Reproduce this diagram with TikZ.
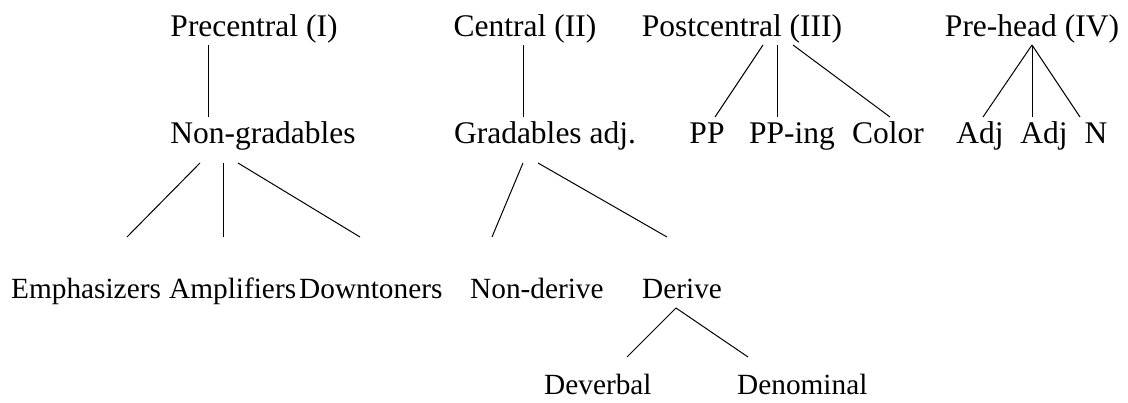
\documentclass[tikz,border=0pt]{standalone}
\usepackage{fontspec}
\setmainfont{Liberation Serif}
\begin{document}
\begin{tikzpicture}[x=1pt,y=-1pt,
  lbl/.style={anchor=base,inner sep=0pt,font=\fontsize{31.5}{36}\selectfont},
  lblw/.style={anchor=base west,inner sep=0pt,font=\fontsize{29.3}{34}\selectfont},
  edge/.style={line width=1pt,black}]
\useasboundingbox (0,0) rectangle (1128,403);
% row 1
\node[lbl] (pre) at (254,37) {Precentral (I)};
\node[lbl] (cen) at (525,37) {Central (II)};
\node[lbl] (post) at (742,37) {Postcentral (III)};
\node[lbl] (head) at (1032,37) {Pre-head (IV)};
% row 2
\node[lbl] (nongrad) at (263,144) {Non-gradables};
\node[lbl] (grad) at (545,144) {Gradables adj.};
\node[lbl] (pp) at (707,144) {PP};
\node[lbl] (pping) at (792,144) {PP-ing};
\node[lbl] (color) at (888,144) {Color};
\node[lbl] (adja) at (980,144) {Adj};
\node[lbl] (adjb) at (1044,144) {Adj};
\node[lbl] (n) at (1096,144) {N};
% row 3
\node[lblw] (emph) at (11,299) {Emphasizers};
\node[lblw] (ampl) at (169,299) {Amplifiers};
\node[lblw] (down) at (299,299) {Downtoners};
\node[lblw] (nonder) at (470,299) {Non-derive};
\node[lblw] (der) at (642,299) {Derive};
% row 4
\node[lblw] (deverb) at (544,395) {Deverbal};
\node[lblw] (denom) at (737,395) {Denominal};
% connector points
\coordinate (preB) at (208,45);
\coordinate (ngT) at (208,117);
\coordinate (cenB) at (523,45);
\coordinate (grT) at (523,117);
\coordinate (postB1) at (763,45);
\coordinate (postB2) at (777,45);
\coordinate (postB3) at (793,45);
\coordinate (ppT) at (715,117);
\coordinate (ppingT) at (777,117);
\coordinate (colorT) at (890,117);
\coordinate (headB) at (1032,45);
\coordinate (adjaT) at (983,117);
\coordinate (adjbT) at (1032,117);
\coordinate (nT) at (1080,117);
\coordinate (ngB1) at (200,163);
\coordinate (ngB2) at (223,163);
\coordinate (ngB3) at (238,163);
\coordinate (emT) at (127,237);
\coordinate (amT) at (223,237);
\coordinate (doT) at (360,237);
\coordinate (grB1) at (523,163);
\coordinate (grB2) at (538,163);
\coordinate (ndT) at (492,237);
\coordinate (dT) at (667,237);
\coordinate (derB) at (676,308);
\coordinate (dvT) at (627,357);
\coordinate (dnT) at (748,357);
% connectors
\draw[edge] (preB) -- (ngT);
\draw[edge] (cenB) -- (grT);
\draw[edge] (postB1) -- (ppT);
\draw[edge] (postB2) -- (ppingT);
\draw[edge] (postB3) -- (colorT);
\draw[edge] (headB) -- (adjaT);
\draw[edge] (headB) -- (adjbT);
\draw[edge] (headB) -- (nT);
\draw[edge] (ngB1) -- (emT);
\draw[edge] (ngB2) -- (amT);
\draw[edge] (ngB3) -- (doT);
\draw[edge] (grB1) -- (ndT);
\draw[edge] (grB2) -- (dT);
\draw[edge] (derB) -- (dvT);
\draw[edge] (derB) -- (dnT);
\end{tikzpicture}
\end{document}
